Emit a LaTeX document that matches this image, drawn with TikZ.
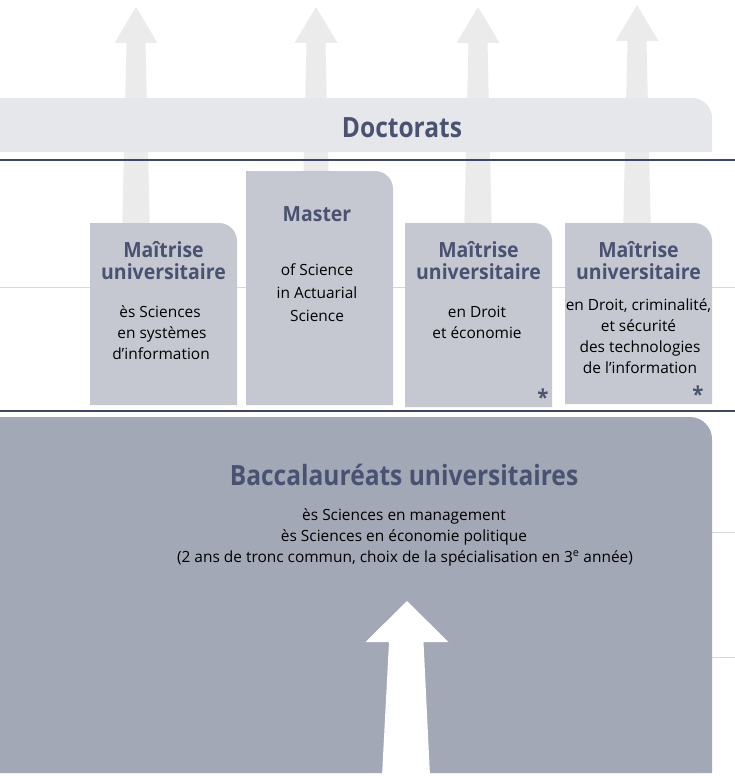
\documentclass[tikz,border=0pt]{standalone}
\usepackage{fontspec}
\setmainfont{Open Sans}
\newfontfamily\ttlfont{Open Sans}[FakeStretch=0.93]
\newfontfamily\bigfont{Open Sans}[FakeStretch=0.88]
\newfontfamily\bdyfont{Open Sans}
\definecolor{arrowgray}{HTML}{EBEBEB}
\definecolor{docbar}{HTML}{E6E7EB}
\definecolor{boxlight}{HTML}{C5C8D1}
\definecolor{boxdark}{HTML}{A3A8B6}
\definecolor{navy}{HTML}{3E4566}
\definecolor{thinline}{HTML}{D5D8DE}
\definecolor{titlecol}{HTML}{4A5271}
\newcommand\trroundbox[6]{%
  \fill[#1] (#2,#3) -- ({#4-#6},#3) .. controls ({#4-0.448*#6},#3) and (#4,{#3+0.448*#6}) .. (#4,{#3+#6}) -- (#4,#5) -- (#2,#5) -- cycle;}
\begin{document}
\begin{tikzpicture}[x=1bp,y=-1bp,
  every node/.style={inner sep=0pt, outer sep=0pt},
  ttlsm/.style={font=\ttlfont\bfseries\fontsize{21}{24}\selectfont, text=titlecol, anchor=base},
  ttlbig/.style={font=\bigfont\bfseries\fontsize{28}{30}\selectfont, text=titlecol, anchor=base},
  bodytxt/.style={font=\bdyfont\fontsize{15.5}{18}\selectfont, text=black, anchor=base},
  star/.style={font=\ttlfont\bfseries\fontsize{22}{24}\selectfont, text=titlecol, anchor=base},
  greyup/.pic={\fill[arrowgray] (0,0) -- (21.5,36) -- (9.5,36) -- (14,230) -- (-14,230) -- (-9.5,36) -- (-21.5,36) -- cycle;},
  rule/.style={draw=navy, line width=1.3bp},
  thin/.style={draw=thinline, line width=1bp}]
\useasboundingbox (0,0) rectangle (735,776);
% thin background lines
\draw[thin] (0,287) -- (735,287);
\draw[thin] (0,532) -- (735,532);
\draw[thin] (0,657) -- (735,657);
% grey arrows
\pic at (136,7) {greyup};
\pic at (316,7) {greyup};
\pic at (478,7) {greyup};
\pic at (637,5) {greyup};
% Doctorats bar
\trroundbox{docbar}{0}{98}{712}{152}{20}
\node[ttlbig] (doc) at (402,137) {Doctorats};
% navy rules
\draw[rule] (0,160) -- (735,160);
\draw[rule] (0,411) -- (735,411);
% boxes
\trroundbox{boxlight}{90}{223}{237}{405}{18}
\trroundbox{boxlight}{246}{171}{393}{405}{18}
\trroundbox{boxlight}{405}{223}{552}{407}{18}
\trroundbox{boxlight}{565}{223}{712}{404}{18}
% box 1
\node[ttlsm] (m1a) at (163.5,257) {Maîtrise};
\node[ttlsm] (m1b) at (163.5,279) {universitaire};
\node[bodytxt] (m1c) at (160,317) {ès Sciences};
\node[bodytxt] (m1d) at (162,338) {en systèmes};
\node[bodytxt] (m1e) at (161,359) {d’information};
% box 2
\node[ttlsm] (m2a) at (317,221) {Master};
\node[bodytxt] (m2b) at (317,275) {of Science};
\node[bodytxt] (m2c) at (317,298) {in Actuarial};
\node[bodytxt] (m2d) at (317,321) {Science};
% box 3
\node[ttlsm] (m3a) at (478.5,257) {Maîtrise};
\node[ttlsm] (m3b) at (478.5,279) {universitaire};
\node[bodytxt] (m3c) at (477,317) {en Droit};
\node[bodytxt] (m3d) at (477,338) {et économie};
\node[star] (m3s) at (543,405) {*};
% box 4
\node[ttlsm] (m4a) at (638.5,257) {Maîtrise};
\node[ttlsm] (m4b) at (638.5,279) {universitaire};
\node[bodytxt] (m4c) at (638.5,310) {en Droit, criminalité,};
\node[bodytxt] (m4d) at (638.5,331) {et sécurité};
\node[bodytxt] (m4e) at (640,352) {des technologies};
\node[bodytxt] (m4f) at (640,373) {de l’information};
\node[star] (m4s) at (698,402) {*};
% big box
\trroundbox{boxdark}{0}{417}{712}{773}{22}
\node[ttlbig] (bacc) at (404,485) {Baccalauréats universitaires};
\node[bodytxt] (b1) at (404,520) {ès Sciences en management};
\node[bodytxt] (b2) at (404,541) {ès Sciences en économie politique};
\node[bodytxt] (b3) at (405,562) {(2 ans de tronc commun, choix de la spécialisation en 3\textsuperscript{e} année)};
% white arrow
\fill[white] (407,601) -- (448.5,642) -- (423.5,642) -- (430,776) -- (382,776) -- (389,642) -- (365.5,642) -- cycle;
\end{tikzpicture}
\end{document}
